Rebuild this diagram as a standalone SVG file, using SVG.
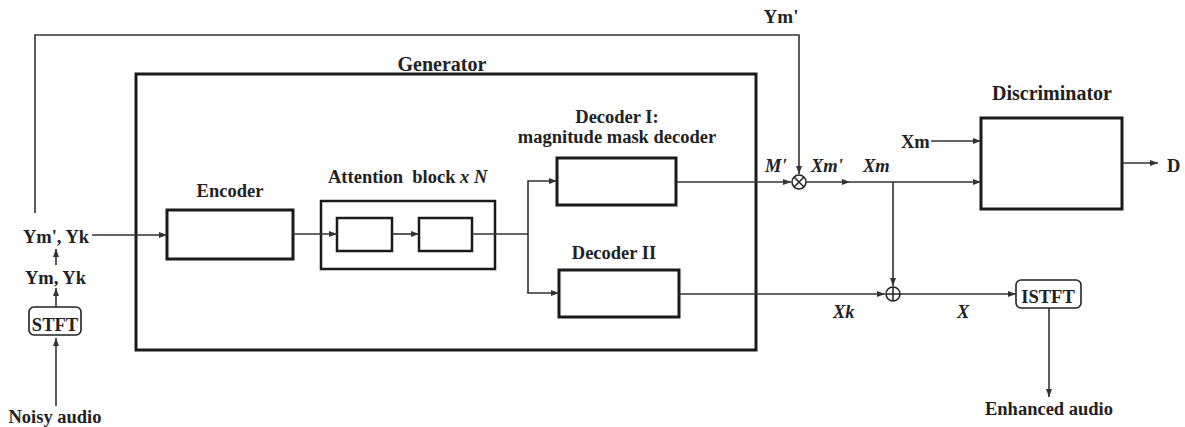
<svg xmlns="http://www.w3.org/2000/svg" width="1185" height="427" viewBox="0 0 1185 427">
<style>
text{font-family:"Liberation Serif","Times New Roman",serif;font-weight:bold;font-size:18.5px;fill:#222}
.t{font-size:20px}
.i{font-style:italic}
.m{text-anchor:middle}
.box{fill:#fff;stroke:#1a1a1a;stroke-width:3}
.rbox{fill:#fff;stroke:#222;stroke-width:1.6}
.c{fill:none;stroke:#333;stroke-width:1.6}
.sym{fill:#fff;stroke:#222;stroke-width:1.5}
</style>
<defs>
<marker id="a" markerUnits="userSpaceOnUse" markerWidth="9" markerHeight="7" refX="8" refY="3" orient="auto">
<path d="M0,0 L8,3 L0,6 z" fill="#333"/>
</marker>
</defs>
<rect x="0" y="0" width="1185" height="427" fill="#fff"/>

<g id="generator">
<rect class="box" x="136" y="74" width="620" height="276"/>
<text class="t m" x="442" y="71">Generator</text>
</g>
<g id="encoder">
<rect class="box" x="167" y="210" width="126" height="49"/>
<text class="m" x="230" y="197">Encoder</text>
</g>
<g id="attention">
<rect class="box" x="321" y="201" width="174" height="68" style="stroke-width:2.5"/>
<rect class="box" x="337" y="218" width="55" height="33" style="stroke-width:2.5"/>
<rect class="box" x="419" y="218" width="53" height="33" style="stroke-width:2.5"/>
<text x="328" y="183" xml:space="preserve">Attention  block <tspan class="i">x N</tspan></text>
</g>
<g id="decoder1">
<rect class="box" x="557" y="158" width="119" height="47"/>
<text class="m" x="617" y="123">Decoder I:</text>
<text class="m" x="617" y="143">magnitude mask decoder</text>
</g>
<g id="decoder2">
<rect class="box" x="559" y="270" width="120" height="47"/>
<text class="m" x="614" y="259">Decoder II</text>
</g>
<g id="discriminator">
<rect class="box" x="981" y="118" width="141" height="91"/>
<text class="t m" x="1052" y="100">Discriminator</text>
</g>
<g id="stft">
<rect class="rbox" x="29" y="307" width="52" height="28" rx="5"/>
<text class="m" x="55" y="331">STFT</text>
</g>
<g id="istft">
<rect class="rbox" x="1016" y="280" width="65" height="28" rx="5"/>
<text class="m" x="1048" y="303">ISTFT</text>
</g>
<g id="multiply">
<circle class="sym" cx="799" cy="182" r="7"/>
<path class="sym" d="M794,177 L804,187 M804,177 L794,187"/>
</g>
<g id="add">
<circle class="sym" cx="893" cy="294" r="7"/>
<path class="sym" d="M886,294 L900,294 M893,287 L893,301"/>
</g>

<g id="connectors">
<line class="c" x1="56" y1="406" x2="56" y2="338" marker-end="url(#a)"/>
<line class="c" x1="56" y1="307" x2="56" y2="288" marker-end="url(#a)"/>
<line class="c" x1="56" y1="265" x2="56" y2="249" marker-end="url(#a)"/>
<line class="c" x1="92" y1="235" x2="167" y2="235" marker-end="url(#a)"/>
<polyline class="c" points="35,213 35,35 799,35 799,174" marker-end="url(#a)"/>
<line class="c" x1="293" y1="234" x2="337" y2="234" marker-end="url(#a)"/>
<line class="c" x1="392" y1="234" x2="419" y2="234" marker-end="url(#a)"/>
<polyline class="c" points="472,234 528,234"/>
<polyline class="c" points="528,293 528,181 557,181" marker-end="url(#a)"/>
<polyline class="c" points="528,292 528,293 559,293" marker-end="url(#a)"/>
<line class="c" x1="676" y1="182" x2="791" y2="182" marker-end="url(#a)"/>
<line class="c" x1="806" y1="182" x2="850" y2="182" marker-end="url(#a)"/>
<line class="c" x1="850" y1="182" x2="981" y2="182" marker-end="url(#a)"/>
<line class="c" x1="893" y1="182" x2="893" y2="286" marker-end="url(#a)"/>
<line class="c" x1="679" y1="294" x2="885" y2="294" marker-end="url(#a)"/>
<line class="c" x1="900" y1="294" x2="1016" y2="294" marker-end="url(#a)"/>
<line class="c" x1="931" y1="141" x2="981" y2="141" marker-end="url(#a)"/>
<line class="c" x1="1122" y1="163" x2="1158" y2="163" marker-end="url(#a)"/>
<line class="c" x1="1049" y1="308" x2="1049" y2="397" marker-end="url(#a)"/>
</g>

<g id="labels">
<text class="m" x="55" y="423">Noisy audio</text>
<text class="m" x="55.5" y="284">Ym, Yk</text>
<text class="m" x="56" y="243">Ym', Yk</text>
<text class="m" x="781" y="23" style="font-size:19px">Ym'</text>
<text class="i" x="765" y="172">M'</text>
<text class="i" x="811" y="172">Xm'</text>
<text class="i" x="863" y="172">Xm</text>
<text x="901" y="148">Xm</text>
<text x="1167" y="172">D</text>
<text class="i" x="833" y="318">Xk</text>
<text class="i" x="957" y="318">X</text>
<text class="m" x="1049" y="415">Enhanced audio</text>
</g>
</svg>
